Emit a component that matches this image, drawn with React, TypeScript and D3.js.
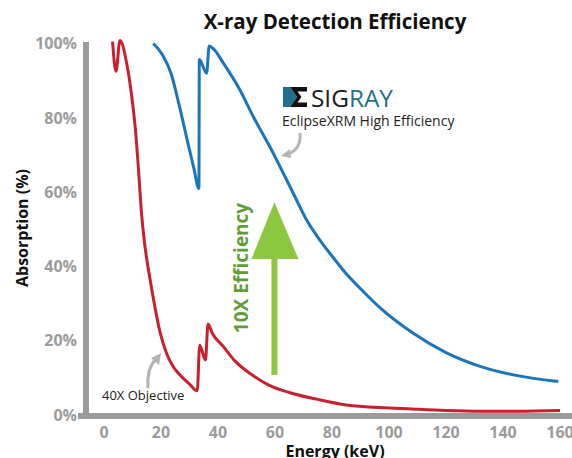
import * as d3 from "d3";

// axis ticks
const xTicks = [0, 20, 40, 60, 80, 100, 120, 140, 160];
const yTicks = [0, 20, 40, 60, 80, 100];

// EclipseXRM High Efficiency (blue)
const eclipseEnergy = [17.3, 20.5, 23.5, 26.5, 29.5, 31.5, 33.3, 33.45, 36, 36.9, 38.5, 41.9, 47.7, 52.4, 58.2, 61.8, 66.4, 71.1, 76, 80, 85, 90, 96.8, 108.5, 120, 132, 143.6, 159.4];
const eclipseAbs = [100, 97, 92, 83, 73, 66.5, 61, 95.7, 92, 99.3, 98.5, 94.7, 87.5, 80.3, 72.2, 66.8, 59.7, 52.5, 46.8, 42.8, 38, 34, 28.9, 22, 16.8, 13.1, 10.8, 9];

// 40X Objective (red)
const objEnergy = [3.0, 4.2, 5.6, 8.0, 9.7, 11, 12.2, 13.2, 14.2, 15.2, 16.1, 18, 19.6, 22, 24.3, 27, 30, 32.7, 33.6, 35.6, 36.5, 38, 41.9, 46, 51.2, 58, 65.3, 75, 85, 100, 108, 120, 132, 145, 160];
const objAbs = [100.5, 92.5, 100.8, 94.5, 86, 77, 65, 54, 46.5, 41, 36.8, 28.5, 22.5, 16.5, 13, 10.5, 8.3, 6.5, 18.8, 14.8, 24.5, 22, 18.4, 14.5, 11.2, 8, 6, 4.2, 2.7, 1.9, 1.6, 1.2, 1.0, 1.0, 1.2];

// green "10X" arrow: energy, from / to absorption
const gainEnergy = 59.8;
const gainFrom = 10.8;
const gainTo = 57.3;
const gainHeadBase = 42;

const title = "X-ray Detection Efficiency";
const xTitle = "Energy (keV)";
const yTitle = "Absorption (%)";

const W = 572;
const H = 458;
const font = "'Open Sans', 'Noto Sans', sans-serif";
const grey = "#9b9b9b";

export default function App() {
  const x = d3.scaleLinear().domain([0, 160]).range([104, 560]);
  const y = d3.scaleLinear().domain([0, 100]).range([415, 43.5]);

  const line = (en: number[], ab: number[]) =>
    d3
      .line<number>()
      .x((d) => x(d))
      .y((_, i) => y(ab[i]))
      .curve(d3.curveMonotoneX)(en) ?? "";

  const gx = x(gainEnergy);
  const gTip = y(gainTo);
  const gBase = y(gainHeadBase);

  return (
    <svg
      width={W}
      height={H}
      viewBox={`0 0 ${W} ${H}`}
      style={{ position: "absolute", left: 0, top: 0, background: "#fff" }}
      fontFamily={font}
    >
      <text x={335} y={29} textAnchor="middle" fontSize={20.5} fontWeight={700} fill="#111">
        {title}
      </text>

      {/* axes */}
      <line x1={86} x2={86} y1={42} y2={419} stroke={grey} strokeWidth={6} />
      <line x1={78} x2={W} y1={416} y2={416} stroke={grey} strokeWidth={6} />

      {yTicks.map((t) => (
        <text
          key={`y${t}`}
          x={77}
          y={y(t)}
          dy="0.36em"
          textAnchor="end"
          fontSize={16}
          fontWeight={700}
          fill={grey}
        >
          {t}%
        </text>
      ))}
      {xTicks.map((t) => (
        <text
          key={`x${t}`}
          x={x(t)}
          y={437.5}
          textAnchor="middle"
          fontSize={16}
          fontWeight={700}
          fill={grey}
        >
          {t}
        </text>
      ))}

      <text x={335} y={456.5} textAnchor="middle" fontSize={16} fontWeight={700} fill="#111">
        {xTitle}
      </text>
      <text
        transform="translate(28,228) rotate(-90)"
        textAnchor="middle"
        fontSize={16}
        fontWeight={700}
        fill="#111"
      >
        {yTitle}
      </text>

      {/* curves */}
      <path d={line(objEnergy, objAbs)} fill="none" stroke="#c8202f" strokeWidth={3} strokeLinejoin="round" />
      <path d={line(eclipseEnergy, eclipseAbs)} fill="none" stroke="#1b75bb" strokeWidth={3} strokeLinejoin="round" />

      {/* green efficiency arrow */}
      <rect x={gx - 3} y={gBase - 2} width={6} height={y(gainFrom) - gBase + 2} fill="#8dc63f" />
      <path d={`M${gx},${gTip}L${gx + 24},${gBase}L${gx - 23},${gBase}Z`} fill="#8dc63f" />
      <text
        transform="translate(248,268) rotate(-90)"
        textAnchor="middle"
        fontSize={19}
        fontWeight={700}
        fill="#5e9e36"
      >
        10X Efficiency
      </text>

      {/* SIGRAY logo */}
      <path d="M283,87L290,87L297,97L290,107L283,107Z" fill="#1f6f8b" />
      <path
        d="M290,87L307,87L307,91.5L297.5,91.5L301.5,97L297.5,102.5L307,102.5L307,107L290,107L297,97Z"
        fill="#111"
      />
      <text x={311} y={106.5} fontSize={24} fontWeight={400} textLength={82} lengthAdjust="spacingAndGlyphs">
        <tspan fill="#1a1a1a">SIG</tspan>
        <tspan fill="#1f6f8b">RAY</tspan>
      </text>
      <text x={282} y={126} fontSize={14} fill="#222">
        EclipseXRM High Efficiency
      </text>

      {/* pointer arrows */}
      <path d="M300,133C301,144 296,151 288,154" fill="none" stroke="#b3b3b3" strokeWidth={3} />
      <path d="M281,156L290,149L291,158Z" fill="#b3b3b3" />
      <path d="M148,388C147,375 150,365 156,359" fill="none" stroke="#b3b3b3" strokeWidth={3} />
      <path d="M161,353L151,358L159,365Z" fill="#b3b3b3" />
      <text x={102} y={400} fontSize={13} fill="#222">
        40X Objective
      </text>
    </svg>
  );
}
